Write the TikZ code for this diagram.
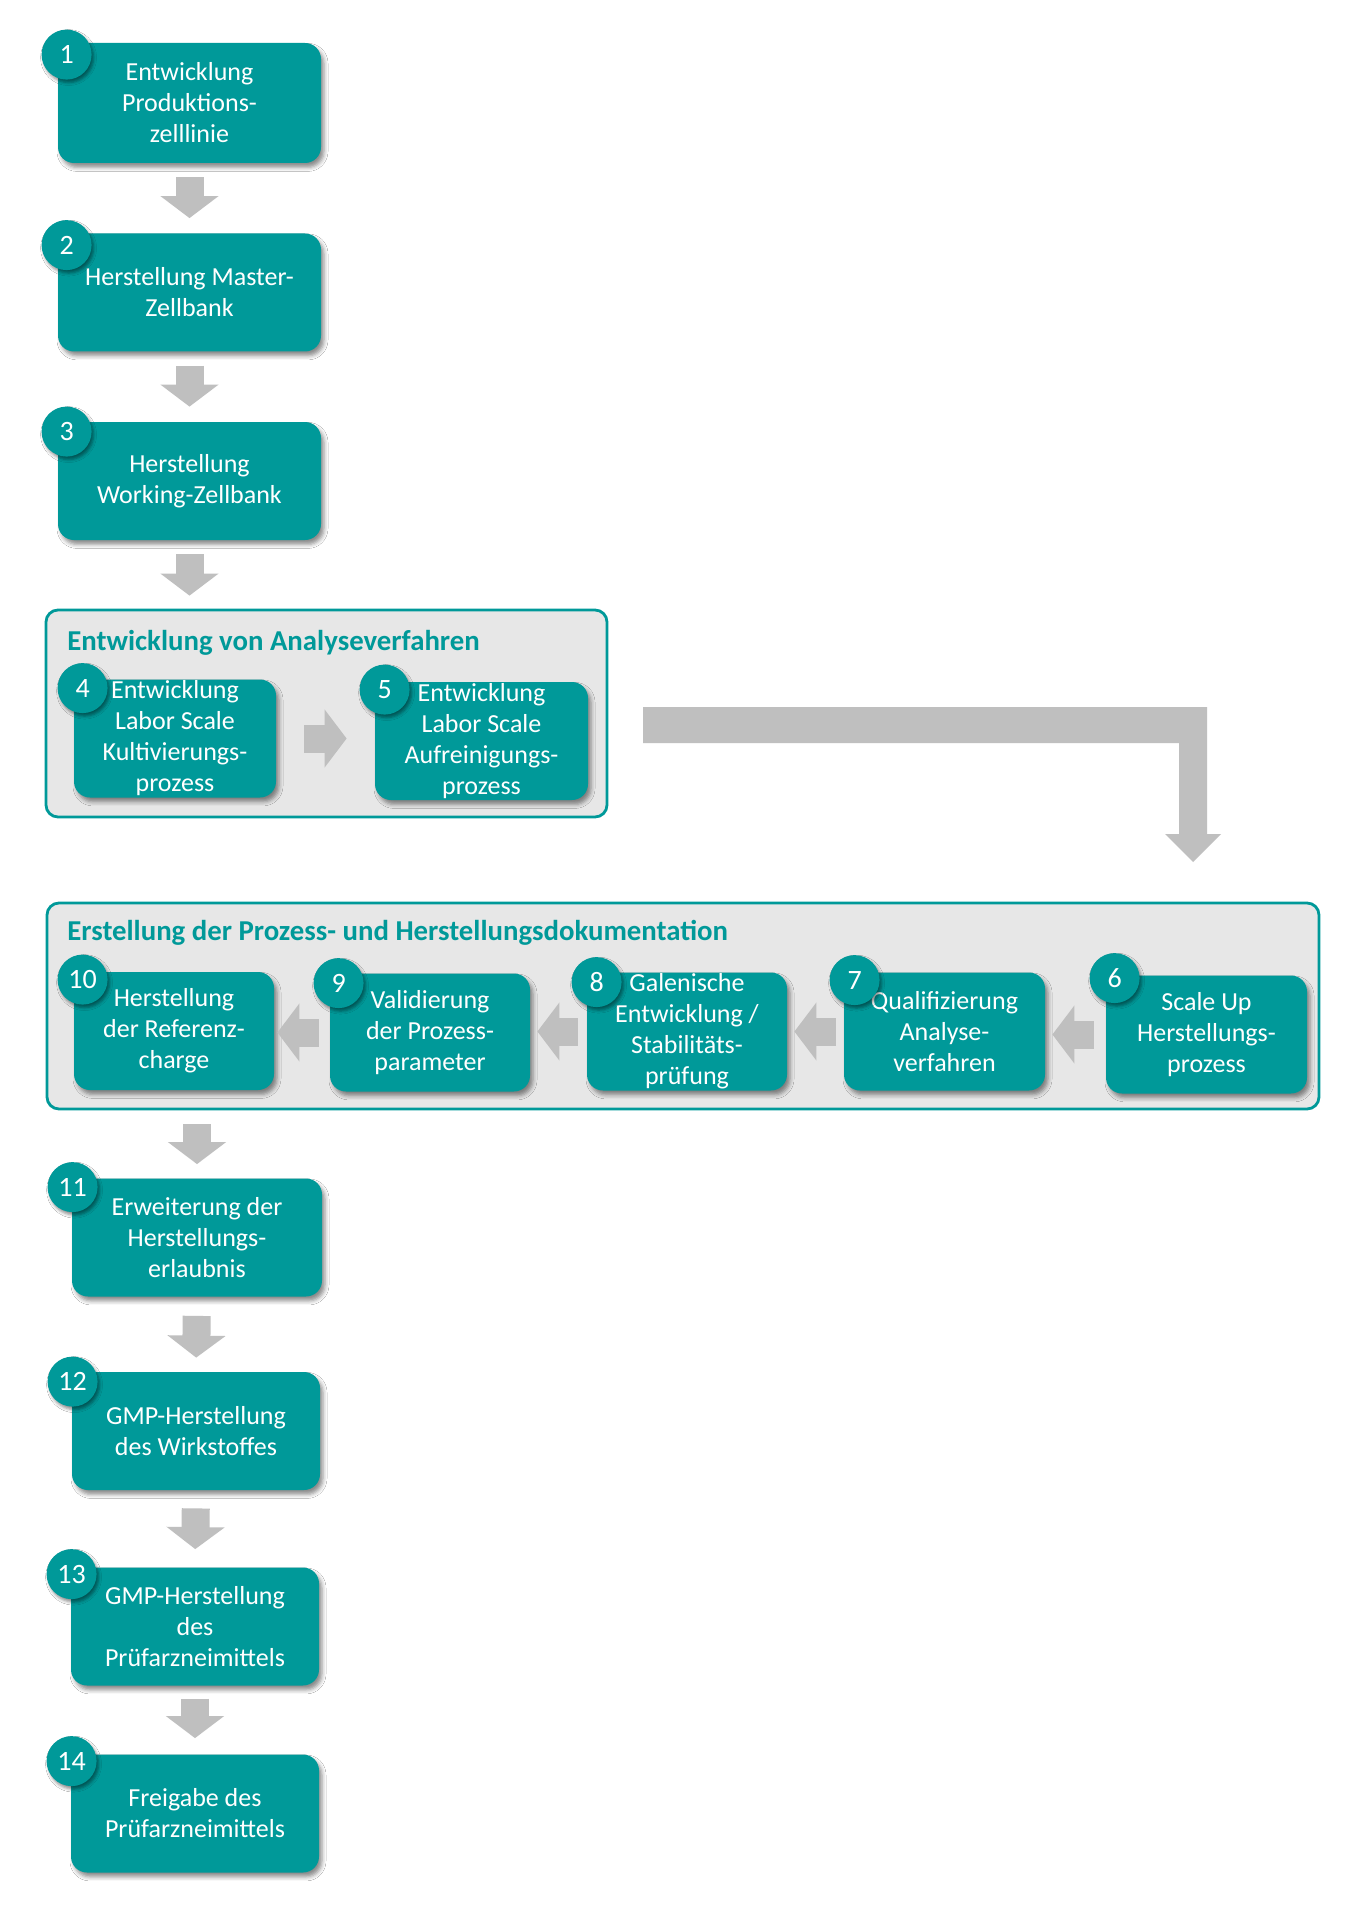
\documentclass[tikz,border=0pt]{standalone}
\usepackage{fontspec}
\setmainfont{Carlito}
\usetikzlibrary{arrows.meta,calc,shadows.blur}
\definecolor{boxteal}{RGB}{0,153,153}
\definecolor{grpgray}{RGB}{231,231,231}
\definecolor{arrowgray}{RGB}{191,191,191}
\begin{document}
\begin{tikzpicture}[x=0.5pt,y=-0.5pt,
  box/.style={fill=boxteal, rounded corners=8pt, minimum height=59pt, inner sep=0pt,
    text=white, align=center, font=\fontsize{13}{15.5}\selectfont,
    blur shadow={shadow xshift=1.5pt, shadow yshift=-2.2pt, shadow blur radius=2pt, shadow opacity=45}},
  num/.style={circle, fill=boxteal, minimum size=25pt, inner sep=0pt, text=white,
    font=\fontsize{14}{15}\selectfont,
    blur shadow={shadow xshift=1pt, shadow yshift=-1.5pt, shadow blur radius=1.5pt, shadow opacity=45}},
  grp/.style={draw=boxteal, line width=1.4pt, fill=grpgray, rounded corners=6pt, inner sep=0pt},
  grptitle/.style={anchor=base west, inner sep=0pt, text=boxteal,
    font=\bfseries\fontsize{14.4}{16}\selectfont},
  flow/.style={draw=arrowgray, line width=14pt, -{Triangle[width=28.5pt,length=11pt]}}]
\fill[white] (0,0) rectangle (1371,1920);
% groups
\node[grp, minimum width=280.5pt, minimum height=103.5pt] (grpA) at (326.5,713.5) {};
\node[grptitle] (tA) at (67,650) {Entwicklung von Analyseverfahren};
\node[grp, minimum width=636pt, minimum height=103pt] (grpB) at (683,1006) {};
\node[grptitle] (tB) at (67,940) {Erstellung der Prozess- und Herstellungsdokumentation};
% steps
\node[box, minimum width=131.5pt, minimum height=60pt] (b1) at (189.5,103) {Entwicklung\\Produktions-\\zelllinie};
\node[box, minimum width=131.5pt] (b2) at (189.5,292.5) {Herstellung Master-\\Zellbank};
\node[box, minimum width=131.5pt] (b3) at (189.5,481) {Herstellung\\Working-Zellbank};
\node[box, minimum width=101pt] (b4) at (175,738.5) {Entwicklung\\Labor Scale\\Kultivierungs-\\prozess};
\node[box, minimum width=106.5pt] (b5) at (481.5,741) {Entwicklung\\Labor Scale\\Aufreinigungs-\\prozess};
\node[box, minimum width=100.5pt] (b6) at (1206.5,1034.5) {Scale Up\\Herstellungs-\\prozess};
\node[box, minimum width=100.5pt] (b7) at (944.5,1031.5) {Qualifizierung\\Analyse-\\verfahren};
\node[box, minimum width=100pt] (b8) at (687,1031.5) {Galenische\\Entwicklung /\\Stabilitäts-\\prüfung};
\node[box, minimum width=100pt] (b9) at (430,1032.5) {Validierung\\der Prozess-\\parameter};
\node[box, minimum width=100pt] (b10) at (174,1031) {Herstellung\\der Referenz-\\charge};
\node[box, minimum width=125pt] (b11) at (197,1237.5) {Erweiterung der\\Herstellungs-\\erlaubnis};
\node[box, minimum width=124pt] (b12) at (196,1431) {GMP-Herstellung\\des Wirkstoffes};
\node[box, minimum width=124pt] (b13) at (195,1626.5) {GMP-Herstellung\\des\\Prüfarzneimittels};
\node[box, minimum width=124pt] (b14) at (195,1813.5) {Freigabe des\\Prüfarzneimittels};
% numbers
\node[num] (n1) at ($(b1.north west)+(9,12)$) {1};
\node[num] (n2) at ($(b2.north west)+(9,12)$) {2};
\node[num] (n3) at ($(b3.north west)+(9,10)$) {3};
\node[num] (n4) at ($(b4.north west)+(9,9)$) {4};
\node[num] (n5) at ($(b5.north west)+(10,8)$) {5};
\node[num] (n6) at ($(b6.north west)+(9,3)$) {6};
\node[num] (n7) at ($(b7.north west)+(11,8)$) {7};
\node[num] (n8) at ($(b8.north west)+(10,10)$) {8};
\node[num] (n9) at ($(b9.north west)+(9,10)$) {9};
\node[num] (n10) at ($(b10.north west)+(9,8)$) {10};
\node[num] (n11) at ($(b11.north west)+(1,9)$) {11};
\node[num] (n12) at ($(b12.north west)+(1,10)$) {12};
\node[num] (n13) at ($(b13.north west)+(1,7)$) {13};
\node[num] (n14) at ($(b14.north west)+(1,7)$) {14};
% arrows
\draw[flow, shorten <=7pt, shorten >=7.5pt] (b1.south) -- (b2.north);
\draw[flow, shorten <=7pt, shorten >=7.5pt] (b2.south) -- (b3.north);
\draw[flow, shorten <=7pt, shorten >=6.5pt] (b3.south) -- (b3.south |- grpA.north);
\draw[flow, shorten <=14pt, shorten >=14pt] (b4.east) -- (b4.east -| b5.west);
\draw[flow, shorten <=6pt, shorten >=3.5pt] (b6.west) -- (b6.west -| b7.east);
\draw[flow, shorten <=4pt, shorten >=3.5pt] (b7.west) -- (b7.west -| b8.east);
\draw[flow, shorten <=4.5pt, shorten >=3.5pt] (b8.west) -- (b8.west -| b9.east);
\draw[flow, shorten <=5.5pt, shorten >=1.5pt] (b9.west) -- (b9.west -| b10.east);
\draw[flow, shorten <=7pt, shorten >=7pt] (b11.north |- grpB.south) -- (b11.north);
\draw[flow, shorten <=9.5pt, shorten >=7pt] (b11.south) -- (b12.north);
\draw[flow, shorten <=9pt, shorten >=9pt] (b12.south) -- (b13.north);
\draw[flow, shorten <=6.5pt, shorten >=8pt] (b13.south) -- (b14.north);
% bent arrow from group A to group B
\coordinate (es) at (643,725);
\coordinate (ee) at (1193,862);
\fill[arrowgray] ($(es)+(0,-18)$) -- ($(ee|-es)+(14,-18)$) -- ($(ee)+(14,-28)$) -- ($(ee)+(28,-28)$)
  -- (ee) -- ($(ee)+(-28,-28)$) -- ($(ee)+(-14,-28)$) -- ($(ee|-es)+(-14,18)$) -- ($(es)+(0,18)$) -- cycle;
\end{tikzpicture}
\end{document}
